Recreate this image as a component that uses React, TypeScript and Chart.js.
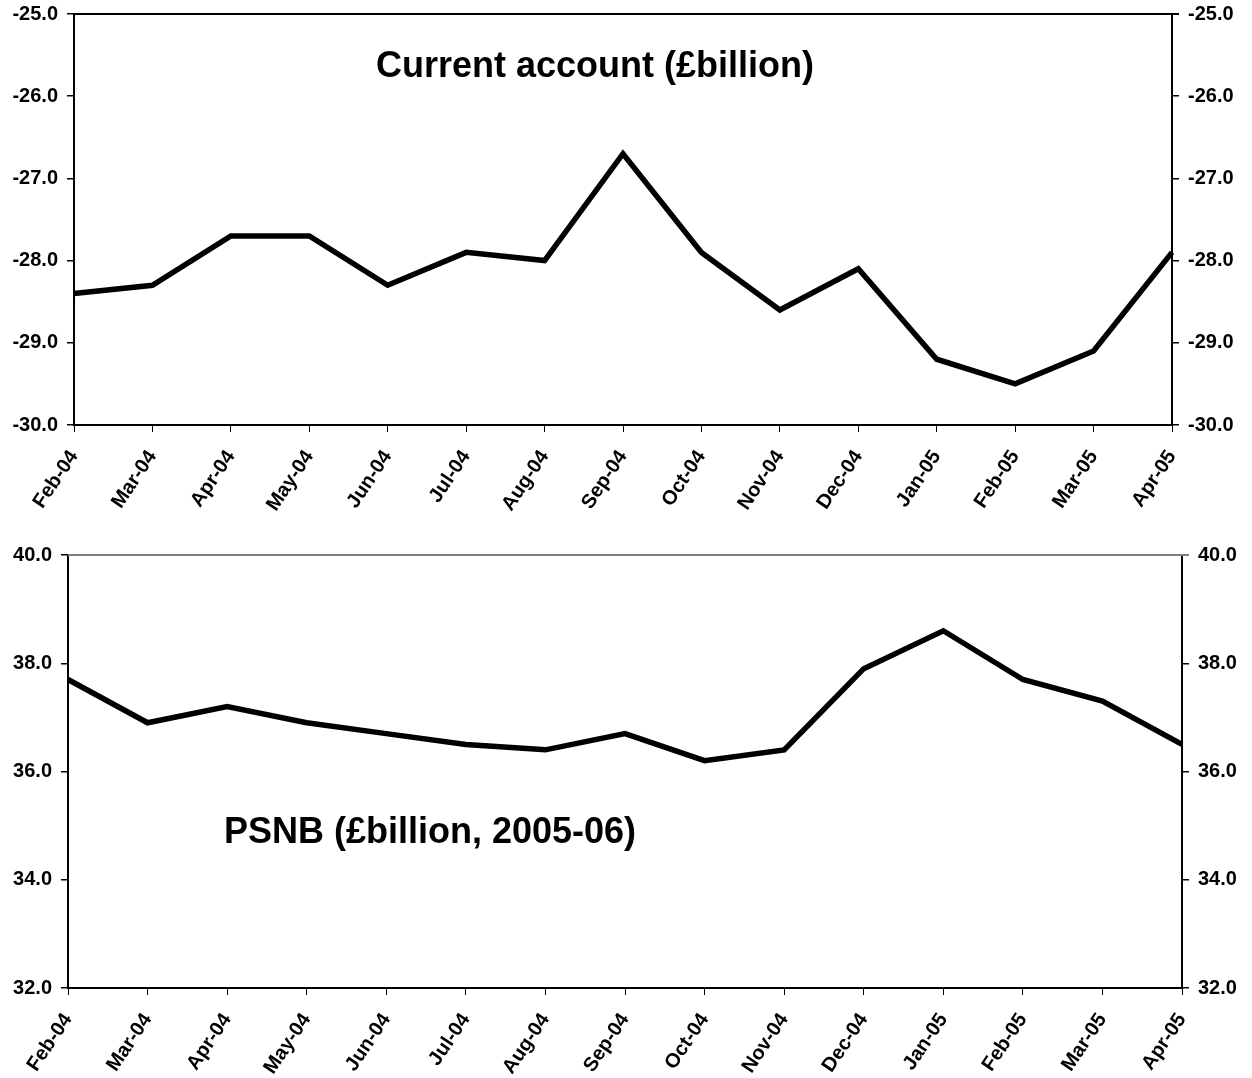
import React, { useEffect, useRef } from "react";
import { Chart, registerables } from "chart.js";

Chart.register(...registerables);

const months = [
  "Feb-04", "Mar-04", "Apr-04", "May-04", "Jun-04", "Jul-04", "Aug-04", "Sep-04",
  "Oct-04", "Nov-04", "Dec-04", "Jan-05", "Feb-05", "Mar-05", "Apr-05",
];

const currentAccount = [
  -28.4, -28.3, -27.7, -27.7, -28.3, -27.9, -28.0, -26.7,
  -27.9, -28.6, -28.1, -29.2, -29.5, -29.1, -27.9,
];

const psnb = [
  37.7, 36.9, 37.2, 36.9, 36.7, 36.5, 36.4, 36.7,
  36.2, 36.4, 37.9, 38.6, 37.7, 37.3, 36.5,
];

const caTitle = "Current account (£billion)";
const psnbTitle = "PSNB (£billion, 2005-06)";

const caMin = -30, caMax = -25, caStep = 1;
const psnbMin = 32, psnbMax = 40, psnbStep = 2;

const FONT = "'Liberation Sans', Arial, Helvetica, sans-serif";

type Cfg = {
  data: number[];
  min: number;
  max: number;
  step: number;
  title: string;
  titleX: number;
  titleY: number;
  leftW: number;
  rightW: number;
  xH: number;
  padTop: number;
  topBorderColor: string;
};

function makeChart(canvas: HTMLCanvasElement, c: Cfg) {
  const overlay = {
    id: "overlay",
    afterDraw(chart: any) {
      const ctx = chart.ctx;
      const a = chart.chartArea;
      ctx.save();
      ctx.strokeStyle = c.topBorderColor;
      ctx.lineWidth = 2;
      ctx.beginPath();
      ctx.moveTo(a.left, a.top);
      ctx.lineTo(a.right + 7, a.top);
      ctx.stroke();
      ctx.fillStyle = "#000";
      ctx.font = `bold 36px ${FONT}`;
      ctx.textAlign = "center";
      ctx.textBaseline = "middle";
      ctx.fillText(c.title, c.titleX, c.titleY);
      ctx.restore();
    },
  };
  const yCommon = (w: number) => ({
    min: c.min,
    max: c.max,
    afterFit(scale: any) {
      scale.width = w;
      scale.paddingTop = 0;
      scale.paddingBottom = 0;
    },
    ticks: {
      stepSize: c.step,
      color: "#000",
      padding: 9,
      font: { family: FONT, size: 20, weight: "bold" as const },
      callback: (v: any) => Number(v).toFixed(1),
    },
    grid: {
      display: true,
      drawOnChartArea: false,
      drawTicks: true,
      tickLength: 7,
      color: "#000",
      lineWidth: 1.5,
    },
    border: { display: true, color: "#000", width: 2 },
  });
  return new Chart(canvas, {
    type: "line",
    data: {
      labels: months,
      datasets: [
        {
          data: c.data,
          borderColor: "#000",
          borderWidth: 5.5,
          pointRadius: 0,
          borderJoinStyle: "miter",
          tension: 0,
          fill: false,
          yAxisID: "y",
        },
      ],
    },
    options: {
      responsive: false,
      animation: false,
      layout: { padding: { top: c.padTop, left: 0, right: 0, bottom: 0 } },
      plugins: { legend: { display: false }, tooltip: { enabled: false }, title: { display: false } },
      scales: {
        x: {
          type: "category",
          offset: false,
          afterFit(scale: any) {
            scale.height = c.xH;
            scale.paddingLeft = 0;
            scale.paddingRight = 0;
          },
          ticks: {
            color: "#000",
            autoSkip: false,
            maxRotation: 56,
            minRotation: 56,
            padding: 14,
            font: { family: FONT, size: 20, weight: "bold" as const },
          },
          grid: {
            display: true,
            drawOnChartArea: false,
            drawTicks: true,
            tickLength: 7,
            color: "#000",
            lineWidth: 1,
            offset: false,
          },
          border: { display: true, color: "#000", width: 2 },
        },
        y: { position: "left", ...yCommon(c.leftW) },
        y2: { position: "right", ...yCommon(c.rightW) },
      },
    } as any,
    plugins: [overlay],
  });
}

export default function App() {
  const topRef = useRef<HTMLCanvasElement>(null);
  const botRef = useRef<HTMLCanvasElement>(null);

  useEffect(() => {
    const a = makeChart(topRef.current!, {
      data: currentAccount,
      min: caMin,
      max: caMax,
      step: caStep,
      title: caTitle,
      titleX: 595,
      titleY: 67,
      leftW: 74,
      rightW: 80,
      xH: 115,
      padTop: 14,
      topBorderColor: "#000",
    });
    const b = makeChart(botRef.current!, {
      data: psnb,
      min: psnbMin,
      max: psnbMax,
      step: psnbStep,
      title: psnbTitle,
      titleX: 430,
      titleY: 293,
      leftW: 68,
      rightW: 70,
      xH: 90,
      padTop: 15,
      topBorderColor: "#808080",
    });
    return () => {
      a.destroy();
      b.destroy();
    };
  }, []);

  return (
    <div style={{ position: "absolute", left: 0, top: 0, width: 1252, height: 1078, background: "#fff" }}>
      <canvas ref={topRef} width={1252} height={540} style={{ position: "absolute", left: 0, top: 0, display: "block" }} />
      <canvas ref={botRef} width={1252} height={538} style={{ position: "absolute", left: 0, top: 540, display: "block" }} />
    </div>
  );
}
